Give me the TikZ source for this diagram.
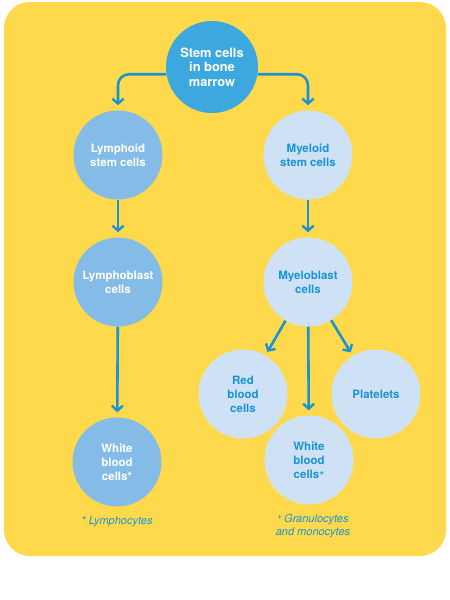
\documentclass[tikz,border=0pt]{standalone}
\usepackage{fontspec}
\setmainfont{TeX Gyre Heros}
\usepackage{xcolor}
\usepackage{tikz}
\usetikzlibrary{arrows.meta, positioning, calc}

\definecolor{panelyellow}{HTML}{FED94B}
\definecolor{stemblue}{HTML}{3DA7DF}
\definecolor{lymphblue}{HTML}{85BCE7}
\definecolor{myelblue}{HTML}{CFE2F5}
\definecolor{arrowblue}{HTML}{1A93D5}

% small raised plus sign
\newcommand{\plusmark}{\raisebox{2.6pt}{\fontsize{8.5}{8.5}\selectfont +}}

\begin{document}
\begin{tikzpicture}[x=1pt, y=-1pt,
  cell/.style={circle, minimum size=89pt, inner sep=0pt, align=center,
    font=\bfseries\fontsize{11.5}{14}\selectfont},
  stemcell/.style={cell, fill=stemblue, text=white, minimum size=92pt,
    font=\bfseries\fontsize{12.8}{14.5}\selectfont},
  lymphcell/.style={cell, fill=lymphblue, text=white},
  myelcell/.style={cell, fill=myelblue, text=arrowblue},
  flow/.style={line width=2.6pt, draw=arrowblue,
    -{Straight Barb[length=5pt, width=11pt, line width=2.4pt]}},
  footnote/.style={text=arrowblue, align=center,
    font=\itshape\fontsize{11}{13}\selectfont}]

  % Page and yellow panel
  \useasboundingbox (0,0) rectangle (450,600);
  \fill[panelyellow, rounded corners=26pt] (4,2) rectangle (446,556);

  % Top cell
  \node[stemcell] (stem) at (212,67) {Stem cells\\in bone\\marrow};

  % Lymphoid branch
  \node[lymphcell] (lymphoid) at (118,155) {Lymphoid\\stem cells};
  \node[lymphcell] (lymphoblast) at (118,282) {Lymphoblast\\cells};
  \node[lymphcell] (whiteL) at (117,462) {White\\blood\\cells*};

  % Myeloid branch
  \node[myelcell] (myeloid) at (308,155) {Myeloid\\stem cells};
  \node[myelcell] (myeloblast) at (308,282) {Myeloblast\\cells};
  \node[myelcell] (red) at (243,394) {Red\\blood\\cells};
  \node[myelcell] (platelets) at (376,394) {Platelets};
  \node[myelcell] (whiteR) at (309,460) {White\\blood\\cells\plusmark};

  % Arrows
  \draw[flow, rounded corners=11pt, shorten >=5pt] (stem.189) -| (lymphoid.north);
  \draw[flow, rounded corners=11pt, shorten >=5pt] (stem.351) -| (myeloid.north);
  \draw[flow, shorten >=5pt] (lymphoid) -- (lymphoblast);
  \draw[flow, shorten >=5pt] (lymphoblast) -- (whiteL);
  \draw[flow, shorten >=5pt] (myeloid) -- (myeloblast);
  \draw[flow, shorten >=4pt] (myeloblast) -- (red);
  \draw[flow, shorten >=4pt] (myeloblast) -- (platelets);
  \draw[flow, shorten >=5pt] (myeloblast) -- (whiteR);

  % Footnotes
  \node[footnote] (noteL) at (117,522) {* Lymphocytes};
  \node[footnote] (noteR) at (313,526) {\plusmark\,Granulocytes\\and monocytes};
\end{tikzpicture}
\end{document}
